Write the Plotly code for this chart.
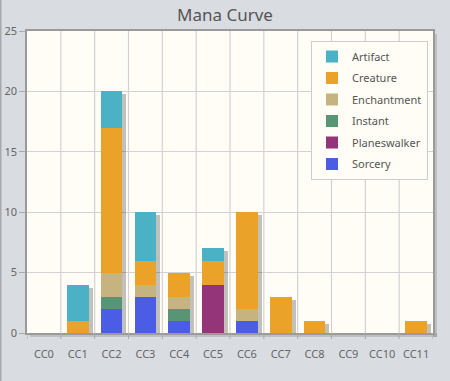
import numpy as np
import plotly.graph_objects as go

categories = ["CC0", "CC1", "CC2", "CC3", "CC4", "CC5", "CC6", "CC7", "CC8", "CC9", "CC10", "CC11"]
# stacking order bottom -> top
sorcery      = [0, 0, 2, 3, 1, 0, 1, 0, 0, 0, 0, 0]
planeswalker = [0, 0, 0, 0, 0, 4, 0, 0, 0, 0, 0, 0]
instant      = [0, 0, 1, 0, 1, 0, 0, 0, 0, 0, 0, 0]
enchantment  = [0, 0, 2, 1, 1, 0, 1, 0, 0, 0, 0, 0]
creature     = [0, 1, 12, 2, 2, 2, 8, 3, 1, 0, 0, 1]
artifact     = [0, 3, 3, 4, 0, 1, 0, 0, 0, 0, 0, 0]

series = [
    ("Sorcery", sorcery, "#4b5de4"),
    ("Planeswalker", planeswalker, "#953579"),
    ("Instant", instant, "#579575"),
    ("Enchantment", enchantment, "#c5b47f"),
    ("Creature", creature, "#eaa228"),
    ("Artifact", artifact, "#4bb2c5"),
]

FONT = "Noto Sans"
x = np.arange(len(categories))
totals = np.sum([np.array(s[1]) for s in series], axis=0)

fig = go.Figure()
BW = 0.64
# shadow
fig.add_trace(go.Bar(
    x=x, y=np.where(totals > 0, totals - 0.25, 0), base=0,
    width=BW, offset=-BW / 2 + 0.12,
    marker=dict(color="rgba(0,0,0,0.24)", line=dict(width=0)),
    showlegend=False, hoverinfo="skip",
))
base = np.zeros(len(categories))
for i, (name, vals, col) in enumerate(series):
    v = np.array(vals, dtype=float)
    fig.add_trace(go.Bar(
        x=x, y=v, base=base.copy(), name=name, legendgroup=name,
        legendrank=1000 - i,
        width=BW, offset=-BW / 2,
        marker=dict(color=col, line=dict(width=0)),
    ))
    base = base + v

W, H = 450, 381
L, R, T, B = 27, 17, 31, 48
pw, ph = W - L - R, H - T - B

shapes = [
    # plot-area shadow (right / bottom)
    dict(type="rect", xref="paper", yref="paper", x0=1, x1=1 + 4 / pw, y0=-4 / ph, y1=1 - 3 / ph,
         fillcolor="rgba(0,0,0,0.13)", line=dict(width=0), layer="below"),
    dict(type="rect", xref="paper", yref="paper", x0=3 / pw, x1=1 + 4 / pw, y0=-4 / ph, y1=0,
         fillcolor="rgba(0,0,0,0.13)", line=dict(width=0), layer="below"),
    # container left border
    dict(type="line", xref="paper", yref="paper", x0=-(L - 0.75) / pw, x1=-(L - 0.75) / pw, y0=-B / ph, y1=1 + T / ph,
         line=dict(color="#a6aaae", width=1.5)),
]

fig.update_layout(
    width=W, height=H,
    margin=dict(l=L, r=R, t=T, b=B),
    paper_bgcolor="#d9dde1",
    plot_bgcolor="#fffdf6",
    barmode="overlay",
    bargap=0,
    title=dict(text="Mana Curve", x=0.5, xanchor="center", y=1 - 15 / H, yanchor="middle",
               font=dict(family=FONT, size=17, color="#555555")),
    font=dict(family=FONT, size=11, color="#666666"),
    legend=dict(
        x=(311 - L) / pw, y=1 - (41 - T) / ph, xanchor="left", yanchor="top",
        bgcolor="#fffdf6", bordercolor="#cccccc", borderwidth=1,
        font=dict(family=FONT, size=11, color="#555555"),
        traceorder="grouped", tracegroupgap=2.5, itemwidth=30,
    ),
    shapes=shapes,
    showlegend=True,
)
fig.update_xaxes(
    range=[-0.5, len(categories) - 0.5],
    tickmode="array", tickvals=x, ticktext=categories,
    showgrid=False,
    showline=True, linecolor="#9a9a9a", linewidth=1.5, mirror=True,
    ticks="", ticklabelstandoff=10,
    tickfont=dict(family=FONT, size=11, color="#666666"),
    zeroline=False, fixedrange=True, automargin=False,
)
# vertical gridlines / ticks at category boundaries
for b in np.arange(-0.5, len(categories) + 0.5, 1.0):
    if -0.5 < b < len(categories) - 0.5:
        fig.add_shape(type="line", xref="x", yref="paper", x0=b, x1=b, y0=0, y1=1,
                      line=dict(color="#d2d2d2", width=1.2), layer="below")
    fig.add_shape(type="line", xref="x", yref="paper", x0=b, x1=b, y0=0, y1=-6 / ph,
                  line=dict(color="#aaaaaa", width=1))
fig.update_yaxes(
    range=[0, 25], dtick=5, tick0=0,
    showgrid=True, gridcolor="#d2d2d2", gridwidth=1.2,
    showline=True, linecolor="#9a9a9a", linewidth=1.5, mirror=True,
    ticks="outside", ticklen=6, tickcolor="#aaaaaa",
    tickfont=dict(family=FONT, size=11, color="#666666"),
    zeroline=False, fixedrange=True, automargin=False,
)

fig.write_html("out.html", config={"displayModeBar": False},
               post_script="document.body.style.margin='0';document.body.style.overflow='hidden';")
